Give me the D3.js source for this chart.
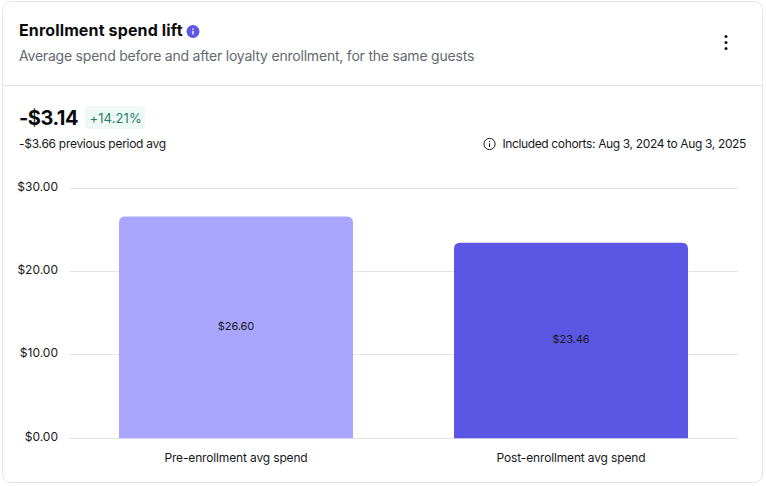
<!DOCTYPE html>
<html>
<head>
<meta charset="utf-8">
<script src="https://cdn.jsdelivr.net/npm/d3@7"></script>
<style>
  html, body { margin: 0; padding: 0; background: #fff; }
  svg { display: block; }
  text { font-family: Inter, "Noto Sans", sans-serif; }
</style>
</head>
<body>
<svg id="chart" width="766" height="486"></svg>
<script>
var categories = ['Pre-enrollment avg spend', 'Post-enrollment avg spend'];
var spendValues = [26.60, 23.46];
var yTicks = [0, 10, 20, 30];
var barColors = ['#aaa6ff', '#5c56e4'];

var svg = d3.select('#chart');

// card
svg.append('rect')
  .attr('x', 2.5).attr('y', 1.5)
  .attr('width', 760).attr('height', 481)
  .attr('rx', 8)
  .attr('fill', '#fff')
  .attr('stroke', '#e3e4e5');

svg.append('line')
  .attr('x1', 3).attr('x2', 762)
  .attr('y1', 85.5).attr('y2', 85.5)
  .attr('stroke', '#e3e4e5');

function label(x, y, str, size, weight, color, spacing) {
  return svg.append('text')
    .attr('x', x).attr('y', y)
    .attr('font-size', size)
    .attr('font-weight', weight)
    .attr('fill', color)
    .attr('letter-spacing', spacing || 0)
    .text(str);
}

//// HEADER ////
label(19, 36, 'Enrollment spend lift', 16, 700, '#0b0c0e', 0.14);
svg.append('circle').attr('cx', 193).attr('cy', 31.5).attr('r', 6.5).attr('fill', '#5c56e4');
svg.append('circle').attr('cx', 193).attr('cy', 29).attr('r', 0.8).attr('fill', '#fff');
svg.append('line').attr('x1', 193).attr('x2', 193).attr('y1', 30.8).attr('y2', 34.6)
  .attr('stroke', '#fff').attr('stroke-width', 1.4);
label(19, 61, 'Average spend before and after loyalty enrollment, for the same guests', 14, 400, '#63696f', -0.21);

// three dots menu
[36.5, 42.5, 48.5].forEach(function(cy) {
  svg.append('circle').attr('cx', 726).attr('cy', cy).attr('r', 1.5).attr('fill', '#111');
});

//// KPI ////
label(19, 125, '-$3.14', 20, 700, '#0b0c0e', -0.5);
svg.append('rect').attr('x', 85).attr('y', 106).attr('width', 60).attr('height', 23)
  .attr('rx', 4).attr('fill', '#eef8f5');
label(89.5, 123, '+14.21%', 13, 400, '#2b7d68', 0.1);
label(19, 148, '-$3.66 previous period avg', 12, 400, '#17181a', -0.28);

// cohort note
svg.append('circle').attr('cx', 489.5).attr('cy', 144).attr('r', 5.6)
  .attr('fill', 'none').attr('stroke', '#17181a').attr('stroke-width', 1);
svg.append('circle').attr('cx', 489.5).attr('cy', 141.7).attr('r', 0.6).attr('fill', '#17181a');
svg.append('line').attr('x1', 489.5).attr('x2', 489.5).attr('y1', 143.3).attr('y2', 147)
  .attr('stroke', '#17181a').attr('stroke-width', 1);
label(746, 148, 'Included cohorts: Aug 3, 2024 to Aug 3, 2025', 12, 400, '#17181a', -0.36)
  .attr('text-anchor', 'end');

//// CHART ////
var x = d3.scaleBand()
  .domain(categories)
  .range([68.5, 738.5])
  .paddingInner(0.3015)
  .paddingOuter(0.15075);

var y = d3.scaleLinear()
  .domain([0, 30])
  .range([438.3, 188.1]);

var fmt = function(d) { return '$' + d3.format('.2f')(d); };

var yAxis = svg.append('g')
  .attr('transform', 'translate(69,0)')
  .call(d3.axisLeft(y).tickValues(yTicks).tickSize(-669).tickPadding(11).offset(0).tickFormat(fmt));
yAxis.select('.domain').remove();
yAxis.selectAll('line').attr('stroke', '#e3e4e5').attr('shape-rendering', 'crispEdges');
yAxis.selectAll('text')
  .attr('font-size', 12).attr('fill', '#17181a').attr('dy', '0.2em')
  .style('font-family', 'Inter, sans-serif');

var bars = svg.selectAll('g.bar').data(categories).enter()
  .append('g').attr('class', 'bar');

bars.append('path')
  .attr('fill', function(d, i) { return barColors[i]; })
  .attr('d', function(d, i) {
    var x0 = x(d), w = x.bandwidth(), top = y(spendValues[i]), bot = y(0), r = 6;
    return 'M' + x0 + ',' + bot + 'V' + (top + r) +
      'Q' + x0 + ',' + top + ' ' + (x0 + r) + ',' + top +
      'H' + (x0 + w - r) +
      'Q' + (x0 + w) + ',' + top + ' ' + (x0 + w) + ',' + (top + r) +
      'V' + bot + 'Z';
  });

bars.append('text')
  .attr('x', function(d) { return x(d) + x.bandwidth() / 2; })
  .attr('y', function(d, i) { return (y(spendValues[i]) + y(0)) / 2; })
  .attr('dy', '0.25em')
  .attr('text-anchor', 'middle')
  .attr('font-size', 11)
  .attr('letter-spacing', -0.1)
  .attr('fill', '#17181a')
  .text(function(d, i) { return fmt(spendValues[i]); });

var xAxis = svg.append('g')
  .attr('transform', 'translate(0,438.3)')
  .call(d3.axisBottom(x).tickSize(0).tickPadding(15));
xAxis.select('.domain').remove();
xAxis.selectAll('text')
  .attr('font-size', 12).attr('fill', '#17181a').attr('letter-spacing', -0.15)
  .style('font-family', 'Inter, sans-serif');
</script>
</body>
</html>
